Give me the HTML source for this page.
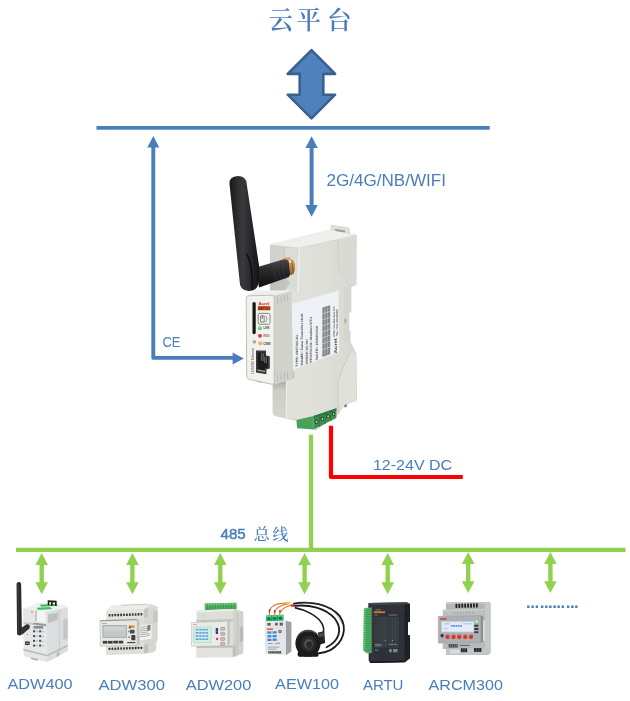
<!DOCTYPE html>
<html lang="zh">
<head>
<meta charset="utf-8">
<title>云平台</title>
<style>
html,body{margin:0;padding:0;background:#fff;}
body{width:630px;height:701px;overflow:hidden;position:relative;}
svg{position:absolute;left:0;top:0;display:block;}
.lbl{font-family:"Liberation Sans","Noto Sans CJK SC",sans-serif;fill:#4a7ebb;}
.cjk{font-family:"Liberation Serif","Noto Serif CJK SC",serif;fill:#4a7ebb;}
.tiny{font-family:"Liberation Sans","Noto Sans CJK SC",sans-serif;}
</style>
</head>
<body>
<svg width="630" height="701" viewBox="0 0 630 701">
<defs>
  <filter id="soft" x="-5%" y="-5%" width="110%" height="110%"><feGaussianBlur stdDeviation="0.35"/></filter>
  <filter id="photo" x="-5%" y="-5%" width="110%" height="110%"><feGaussianBlur stdDeviation="0.55"/></filter>
  <filter id="photo2" x="-5%" y="-5%" width="110%" height="110%"><feGaussianBlur stdDeviation="0.4"/></filter>
</defs>
<rect width="630" height="701" fill="#ffffff"/>
<!-- ===== LINES / ARROWS ===== -->
<g id="wires" filter="url(#soft)">
  <line x1="96.5" y1="127.8" x2="489.7" y2="127.8" stroke="#4a7ebb" stroke-width="3.8"/>
  <path d="M311.5 50.2 L335.1 73.9 L323.3 73.9 L323.3 94.7 L335.1 94.7 L311.5 118.4 L287.7 94.7 L299.7 94.7 L299.7 73.9 L287.7 73.9 Z" fill="#4f81bd" stroke="#3a5f8f" stroke-width="2.6" stroke-linejoin="round"/>
  <line x1="311.6" y1="146" x2="311.6" y2="207" stroke="#4a7ebb" stroke-width="4"/>
  <path d="M311.6 136.3 L317.8 148 L305.4 148 Z M311.6 216.7 L317.8 205 L305.4 205 Z" fill="#4a7ebb"/>
  <path d="M153.3 146 L153.3 357.9 L234 357.9" fill="none" stroke="#4a7ebb" stroke-width="3.9" stroke-linejoin="round"/>
  <path d="M153.3 136 L159.3 147.6 L147.3 147.6 Z" fill="#4a7ebb"/>
  <path d="M243.8 358.4 L232.6 352.4 L232.6 364.4 Z" fill="#4a7ebb"/>
  <path d="M331 425.7 L331 477 L462.8 477" fill="none" stroke="#ff0000" stroke-width="4.2" stroke-linejoin="round"/>
  <line x1="311" y1="434.7" x2="311" y2="550" stroke="#92d050" stroke-width="4.2"/>
  <line x1="16" y1="549.9" x2="625.6" y2="549.9" stroke="#92d050" stroke-width="4.1"/>
  <g id="garrows" fill="#92d050" stroke="#92d050">
    <g transform="translate(41.7 0)"><line x1="0" y1="563" x2="0" y2="584" stroke-width="4.4"/><path d="M0 553.1 L6.3 565 L-6.3 565 Z M0 594.2 L6.3 582.3 L-6.3 582.3 Z" stroke="none"/></g>
    <g transform="translate(132.4 0)"><line x1="0" y1="563" x2="0" y2="584" stroke-width="4.4"/><path d="M0 553.1 L6.3 565 L-6.3 565 Z M0 594.2 L6.3 582.3 L-6.3 582.3 Z" stroke="none"/></g>
    <g transform="translate(220.3 0)"><line x1="0" y1="563" x2="0" y2="584" stroke-width="4.4"/><path d="M0 553.1 L6.3 565 L-6.3 565 Z M0 594.2 L6.3 582.3 L-6.3 582.3 Z" stroke="none"/></g>
    <g transform="translate(304.6 0)"><line x1="0" y1="563" x2="0" y2="584" stroke-width="4.4"/><path d="M0 553.1 L6.3 565 L-6.3 565 Z M0 594.2 L6.3 582.3 L-6.3 582.3 Z" stroke="none"/></g>
    <g transform="translate(387.7 0)"><line x1="0" y1="563" x2="0" y2="584" stroke-width="4.4"/><path d="M0 553.1 L6.3 565 L-6.3 565 Z M0 594.2 L6.3 582.3 L-6.3 582.3 Z" stroke="none"/></g>
    <g transform="translate(468.2 -1.1)"><line x1="0" y1="563" x2="0" y2="584" stroke-width="4.4"/><path d="M0 553.1 L6.3 565 L-6.3 565 Z M0 594.2 L6.3 582.3 L-6.3 582.3 Z" stroke="none"/></g>
    <g transform="translate(550.4 -1.1)"><line x1="0" y1="563" x2="0" y2="584" stroke-width="4.4"/><path d="M0 553.1 L6.3 565 L-6.3 565 Z M0 594.2 L6.3 582.3 L-6.3 582.3 Z" stroke="none"/></g>
  </g>
</g>
<!-- ===== CENTRAL GATEWAY (AWT100) ===== -->
<defs>
  <linearGradient id="gwSide" x1="0" y1="0" x2="1" y2="0">
    <stop offset="0" stop-color="#e2e3dd"/><stop offset="0.6" stop-color="#dedfd9"/><stop offset="1" stop-color="#d7d8d2"/>
  </linearGradient>
  <linearGradient id="gwFront" x1="0" y1="0" x2="1" y2="0">
    <stop offset="0" stop-color="#cfd1ca"/><stop offset="1" stop-color="#d6d8d1"/>
  </linearGradient>
  <linearGradient id="gwAnt" x1="0" y1="0" x2="1" y2="0">
    <stop offset="0" stop-color="#1a1a1c"/><stop offset="0.45" stop-color="#3a3a3d"/><stop offset="1" stop-color="#141416"/>
  </linearGradient>
  <linearGradient id="gwElbow" x1="0" y1="0" x2="0" y2="1">
    <stop offset="0" stop-color="#4a4a4c"/><stop offset="0.4" stop-color="#2a2a2c"/><stop offset="1" stop-color="#0e0e10"/>
  </linearGradient>
  <linearGradient id="gwGold" x1="0" y1="0" x2="0" y2="1">
    <stop offset="0" stop-color="#e0b070"/><stop offset="0.5" stop-color="#b8823c"/><stop offset="1" stop-color="#8a5a28"/>
  </linearGradient>
  <linearGradient id="gwLow" x1="0" y1="0" x2="0" y2="1">
    <stop offset="0" stop-color="#a9a9a2"/><stop offset="0.25" stop-color="#cdcdc6"/><stop offset="1" stop-color="#d6d6cf"/>
  </linearGradient>
</defs>
<g id="gateway" filter="url(#photo)">
  <!-- full body silhouette / main side face -->
  <path d="M270.4 245 L331 230 L331 225.2 L349 228.2 L349.6 234 L356.2 235.4 L356 284.6 L350.8 286.5 L350.8 311.5 L348.8 312.5 L348.8 330 L350 331 L350 342 L356 354 L356.6 400 L344 405 L338 414 L316 430 L297 420.5 L275 415.5 Q273 415 273 412 L273 386 L270.4 290 Z" fill="url(#gwSide)" stroke="#cfcfc8" stroke-width="0.9" stroke-linejoin="round"/>
  <!-- top face -->
  <path d="M270.4 244.6 L331 229.6 L356.2 235.2 L299.3 248.2 Z" fill="#efefeb"/>
  <path d="M270.4 245 L299.3 248.2 L356.2 235.4" stroke="#d2d2cb" stroke-width="0.7" fill="none"/>
  <!-- tab -->
  <path d="M331 230.5 L331 225.2 L349 228.2 L349.6 234.4 L345 233.4 L345 230.3 L335 228.6 L335 231.2 Z" fill="#deded8"/>
  <path d="M335.2 229 L345 230.6 L345 232.6 L335.2 231 Z" fill="#9c9c96"/>
  <!-- upper block front face -->
  <path d="M270.4 245 L299.3 248.2 L298 292 L270.4 292 Z" fill="url(#gwFront)"/>
  <path d="M284.4 247.4 L299.3 248.2 L298 292 L284.4 292 Z" fill="#dadcd6"/>
  <path d="M284.4 247.6 L284.4 258" stroke="#c4c4bd" stroke-width="0.8" fill="none"/>
  <path d="M270.4 279 L284 275 L290 283 L284 292 L270.4 292 Z" fill="#aeaea6" opacity="0.45"/>
  <!-- corner highlight -->
  <path d="M299.3 248.2 L298 292" stroke="#f2f2ee" stroke-width="1.2" fill="none"/>
  <!-- rear (rail) face -->
  <path d="M337.9 239.6 L356.2 235.4 L356 284.6 L350.6 286.5 L337.9 268.8 Z" fill="#dadad4"/>
  <path d="M337.9 239.6 L337.9 268.8 L350.6 286.5" stroke="#cdcdc6" stroke-width="0.8" fill="none"/>
  <path d="M350.8 286.5 L350.8 311.5 L348.8 312.5 L348.8 330 L350 331 L350 342 L344 342 L344 287 Z" fill="#d6d6d0"/>
  <!-- lower rear clip face -->
  <path d="M351 351 Q343 366 338 381 L338 414 L344 405 L356.6 400 L356 354 Z" fill="#e1e1dc"/>
  <path d="M351.5 350 Q343 366 338 381 L338 413" stroke="#c9c9c2" stroke-width="0.9" fill="none"/>
  <path d="M344 405 L347 404 L347 407 L344.4 407.6 Z" fill="#8e8e88"/>
  <!-- label sticker -->
  <path d="M291.6 304 L338.6 290.5 L339.2 352 L293.4 369.8 Z" fill="#eef1f5"/>
  <!-- lower block front face -->
  <path d="M273 384 L286.4 381 L286.4 418.2 L275 415.5 Q273 415 273 412 Z" fill="url(#gwLow)"/>
  <path d="M286.4 381 L294 378.5 L294 371 L286.4 374 Z" fill="#bdbdb6"/>
  <path d="M286.4 381 L286.4 418" stroke="#efefeb" stroke-width="1" fill="none"/>
  <!-- front block side face -->
  <path d="M273.9 295.4 L291.4 290.6 L293 378.6 L273.9 384.8 Z" fill="#d2d2cc"/>
  <path d="M277.6 297 L277.6 304 M281 296.2 L281 303 M284.4 295.4 L284.4 302 M287.6 294.6 L287.6 301" stroke="#babab3" stroke-width="1" fill="none"/>
  <path d="M277.6 374.5 L277.6 381.5 M281 373.6 L281 380.6 M284.4 372.6 L284.4 379.6 M287.6 371.8 L287.6 378.8" stroke="#babab3" stroke-width="1" fill="none"/>
  <!-- front block top face -->
  <path d="M246.6 296 L256 290.4 L293.4 290.2 L273.9 295.6 Z" fill="#efefec"/>
  <!-- front block front face -->
  <path d="M248.2 295.8 L272 295.2 Q274.2 295.2 274.2 297.4 L274.2 382.4 Q274.2 384.9 271.8 384.3 L249 379.2 Q246.8 378.7 246.7 376.4 L246.2 298 Q246.2 295.9 248.2 295.8 Z" fill="#f1f1ee" stroke="#bfbfb8" stroke-width="1"/>
</g>
<g id="gateway-details" filter="url(#photo2)">
  <!-- terminal block -->
  <path d="M296.4 420 L313.6 416 L313.6 429.6 L297.1 428.3 Z" fill="#4aa25a"/>
  <path d="M313.6 416 L336.4 408.3 L336.4 418.1 L313.6 429.6 Z" fill="#3f9150"/>
  <path d="M313.6 416 L336.4 408.3 L336.4 410.6 L313.6 418.6 Z" fill="#2f7a42"/>
  <path d="M319.3 414.2 L319.3 426.6 M325.1 412.2 L325.1 423.8 M330.7 410.3 L330.7 421" stroke="#2c6f3c" stroke-width="0.9" fill="none"/>
  <g fill="#1f4a2a">
    <ellipse cx="316.3" cy="421.6" rx="1.9" ry="2.3"/><ellipse cx="322.2" cy="418.7" rx="1.9" ry="2.3"/>
    <ellipse cx="327.9" cy="416.2" rx="1.8" ry="2.2"/><ellipse cx="333.4" cy="414" rx="1.7" ry="2.1"/>
  </g>
  <g fill="#b9cfbd">
    <ellipse cx="316.5" cy="421.8" rx="0.9" ry="1.2"/><ellipse cx="322.4" cy="418.9" rx="0.9" ry="1.2"/>
    <ellipse cx="328.1" cy="416.4" rx="0.9" ry="1.1"/><ellipse cx="333.6" cy="414.2" rx="0.8" ry="1.1"/>
  </g>
  <!-- label text (vertical) -->
  <g class="tiny" fill="#555" font-size="3.4" font-weight="bold">
    <text transform="matrix(0,-1,0.95,-0.27,297.6,366.4)" textLength="32" lengthAdjust="spacingAndGlyphs">TYPE: AWT100-2G</text>
    <text transform="matrix(0,-1,0.95,-0.27,302.9,365.2)" textLength="52" lengthAdjust="spacingAndGlyphs" fill="#4e4e4e">NAME: Data Transfer Unit</text>
    <text transform="matrix(0,-1,0.95,-0.27,307.6,363.8)" textLength="25" lengthAdjust="spacingAndGlyphs" fill="#4e4e4e">POWER: DC 24V</text>
    <text transform="matrix(0,-1,0.95,-0.27,312.4,362.2)" textLength="45.5" lengthAdjust="spacingAndGlyphs">PROTOCOL: Modbus-RTU</text>
    <text transform="matrix(0,-1,0.95,-0.27,317.8,359.6)" textLength="34" lengthAdjust="spacingAndGlyphs">DATE: 20200106</text>
    <text transform="matrix(0,-1,0.95,-0.27,337,353)" textLength="15" lengthAdjust="spacingAndGlyphs" font-weight="bold" font-size="4.4" fill="#444">Acrel</text>
    <text transform="matrix(0,-1,0.95,-0.27,335.4,336.5)" textLength="30" lengthAdjust="spacingAndGlyphs" font-size="2.8">ADD: No.253 Yulv Rd</text>
    <text transform="matrix(0,-1,0.95,-0.27,338.4,335.8)" textLength="27" lengthAdjust="spacingAndGlyphs" font-size="2.8">TEL: 021-69158300</text>
  </g>
  <!-- barcode block -->
  <path d="M322.4 357 L322.4 307.6 L330.2 305.3 L330.2 354 Z" fill="#868686"/>
  <path d="M322.2 350 L330.2 346.8 M322.2 344 L330.2 340.8 M322.2 338 L330.2 334.9 M322.2 332 L330.2 329 M322.2 326 L330.2 323.1 M322.2 320 L330.2 317.2 M322.2 314 L330.2 311.3" stroke="#dcdfe3" stroke-width="0.6" fill="none"/>
  <path d="M324.9 355 L324.9 308 M327.6 354 L327.6 307.2" stroke="#d4d7db" stroke-width="0.5" fill="none"/>
  <!-- side mark on rear strip -->
  <rect x="344.6" y="318.6" width="1.6" height="4.6" fill="#a4a49e"/>

  <!-- front panel -->
  <rect x="252.5" y="302" width="3.2" height="32.2" rx="1.6" fill="#151515"/>
  <text class="tiny" x="258.4" y="305.2" font-size="4" font-weight="bold" fill="#d8272d" textLength="11.2" lengthAdjust="spacingAndGlyphs">Acrel</text>
  <rect x="257.8" y="305.9" width="12.6" height="4.4" fill="#cf5a2c"/>
  <text class="tiny" x="258.3" y="309.6" font-size="3.6" font-weight="bold" fill="#5a2410" textLength="11.6" lengthAdjust="spacingAndGlyphs">AWT100</text>
  <rect x="258.2" y="313.4" width="11.8" height="10.8" rx="1.6" fill="#f4f4f1" stroke="#77776f" stroke-width="0.9"/>
  <path d="M260.6 316 L260.6 322 L264.2 322 L264.2 316 Z M262.4 315.2 L262.4 319" stroke="#66665f" stroke-width="0.8" fill="none"/>
  <path d="M265.6 315.6 Q268.6 318.8 265.6 322.4" stroke="#77776f" stroke-width="0.8" fill="none"/>
  <circle cx="259.9" cy="328.2" r="2" fill="#52cf57"/><circle cx="259.6" cy="327.8" r="0.9" fill="#a9f0a8"/>
  <circle cx="260" cy="335.8" r="1.9" fill="#e2323a"/>
  <circle cx="254.4" cy="341.8" r="1.5" fill="#a9a9a6" stroke="#8b8b88" stroke-width="0.4"/>
  <circle cx="260.3" cy="343.3" r="2" fill="#f8a678"/>
  <g class="tiny" font-size="3.1" font-weight="bold" fill="#55554f">
    <text x="263.4" y="329.4" textLength="6.4" lengthAdjust="spacingAndGlyphs">LINK</text>
    <text x="263.4" y="337" textLength="6" lengthAdjust="spacingAndGlyphs" fill="#8a5a58">RSSI</text>
    <text x="263.2" y="344.8" textLength="7.2" lengthAdjust="spacingAndGlyphs" fill="#33332f">COMM</text>
    <text transform="translate(253.9 374) rotate(-90)" font-size="3.2" font-weight="normal" fill="#4a4a46" textLength="26" lengthAdjust="spacingAndGlyphs">10/100M Ethernet</text>
  </g>
  <!-- RJ45 -->
  <path d="M256 350.6 L266 350.6 L266 355.4 L269.8 356.2 L269.8 368.6 L266.4 369.4 L266.4 374.2 L256 372.6 Z" fill="#3b3b3b"/>
  <path d="M257.6 352.4 L264.6 352.4 L264.6 357 L268 357.6 L268 367.4 L264.8 368 L264.8 370.6 L257.6 369.6 Z" fill="#1e1e1e"/>
  <path d="M261.6 353 L261.6 361 M263.2 353 L263.2 361 M264.7 357 L264.7 363 M266.3 357.6 L266.3 363.4" stroke="#8c8c86" stroke-width="0.7" fill="none"/>
  <path d="M257.4 370 L265 371.4" stroke="#bdbdb6" stroke-width="1" fill="none"/>
  <path d="M256.5 381.4 L262.5 382.6" stroke="#b5b5ae" stroke-width="0.8" fill="none"/>
</g>
<g id="gateway-antenna" filter="url(#photo2)">
  <!-- SMA gold -->
  <ellipse cx="286.6" cy="259.4" rx="4.2" ry="2" transform="rotate(-14 286.6 259.4)" fill="#d8a868"/>
  <path d="M286.6 259.6 L292.4 259.6 L295 263.8 L294.8 270.4 L292.2 274.8 L287.4 275.6 Z" fill="url(#gwGold)"/>
  <path d="M291.8 260 L293.6 274" stroke="#7a4c20" stroke-width="0.8" fill="none"/>
  <ellipse cx="290" cy="261.6" rx="1.6" ry="1" fill="#f5e6cc"/>
  <!-- elbow -->
  <path d="M256 267.4 L284 259.2 Q288.2 259 288.8 262 L290 274.4 Q289.8 277 287 277.8 L259 287.4 Z" fill="url(#gwElbow)"/>
  <path d="M272 263 L276.4 281.4 M276.6 261.6 L281 280 M280.6 260.4 L285 278.6" stroke="#3c3c3e" stroke-width="0.6" fill="none"/>
  <!-- rod -->
  <path d="M229.5 184 Q229 176.4 237.8 176 Q246.2 176 246.7 184 L259.4 268 L258.6 283 Q257 291.4 248.4 291 Q241.2 290.4 240 284.6 Z" fill="url(#gwAnt)"/>
  <path d="M246.6 254 Q252 262 252.6 290" stroke="#050506" stroke-width="1.4" fill="none" opacity="0.8"/>
</g>
<!-- ===== ADW400 ===== -->
<g id="adw400" filter="url(#photo2)"><g transform="translate(5 575) scale(0.13559)">
  <path d="M135 250 L250 205 L430 222 L462 240 L462 560 L312 642 L140 597 Z" fill="#dfe1e1"/>
  <path d="M305 272 L462 240 L462 560 L312 642 Z" fill="#dbdede"/>
  <path d="M135 250 L250 205 L430 222 L462 240 L305 272 Z" fill="#eef0f0"/>
  <path d="M135 250 L305 272 L312 642 L140 597 Z" fill="#e5e7e7"/>
  <path d="M318 292 L392 276 L386 332 L318 354 Z" fill="#bcc0c0"/>
  <path d="M400 255 L400 590" stroke="#c0c4c4" stroke-width="6" fill="none"/>
  <path d="M430 330 L462 322 L462 470 L430 480 Z" fill="#c2c6c6"/>
  <path d="M232 242 L332 236 L348 250 L246 259 Z" fill="#3fbf60"/>
  <path d="M255 219 L375 214 L390 227 L268 235 Z" fill="#39b85a"/>
  <path d="M315 186 L381 190 L381 228 L369 228 L369 203 L352 202 L352 226 L340 226 L340 201 L327 200 L327 224 L315 224 Z" fill="#1e1e1e"/>
  <path d="M222 262 L236 262 L236 342 L222 339 Z" fill="#c2c6c6"/>
  <path d="M236 262 L300 272 L300 352 L236 342 Z" fill="#f3f4f4"/>
  <circle cx="200" cy="272" r="9" fill="#b4b8b8"/>
  <path d="M135 347 L310 366 L310 380 L135 360 Z" fill="#c3c6c6"/>
  <path d="M210 352 L300 362 L300 374 L210 364 Z" fill="#8f9393"/>
  <rect x="210" y="376" width="72" height="20" fill="#8a8e8e"/>
  <g fill="#45484a">
    <rect x="207" y="408" width="15" height="15"/><rect x="252" y="408" width="15" height="15"/>
    <rect x="207" y="443" width="15" height="15"/><rect x="252" y="443" width="15" height="15"/>
    <rect x="207" y="478" width="15" height="15"/><rect x="252" y="478" width="15" height="15"/>
    <rect x="207" y="513" width="15" height="15"/><rect x="252" y="513" width="15" height="15"/>
  </g>
  <g fill="#a9adad"><rect x="228" y="412" width="16" height="6"/><rect x="228" y="447" width="16" height="6"/><rect x="228" y="482" width="16" height="6"/><rect x="228" y="517" width="16" height="6"/>
  <rect x="272" y="416" width="18" height="5"/><rect x="272" y="451" width="18" height="5"/><rect x="272" y="486" width="18" height="5"/><rect x="272" y="521" width="18" height="5"/></g>
  <rect x="148" y="490" width="34" height="26" rx="3" fill="#2f3131"/><rect x="154" y="500" width="22" height="8" fill="#9a9e9e"/>
  <circle cx="165" cy="438" r="5" fill="#9a9e9e"/>
  <path d="M135 543 L310 588 L310 600 L135 556 Z" fill="#b9bcbc"/>
  <path d="M312 588 L462 515 L462 527 L312 600 Z" fill="#b4b8b8"/>
  <path d="M190 606 L242 620 L242 634 L190 620 Z" fill="#b0b4b4"/>
  <path d="M380 575 L400 566 L400 596 L380 606 Z" fill="#b9bcbc"/>
  <!-- antenna -->
  <path d="M118 392 L158 364 Q180 358 184 380 Q184 398 166 406 L124 442 Z" fill="#303030"/>
  <path d="M85 72 Q85 52 102 52 Q119 52 119 72 L125 430 Q125 446 107 446 Q89 446 89 430 Z" fill="#2b2b2b"/>
  <path d="M96 70 L99 425" stroke="#4a4a4a" stroke-width="5" fill="none"/>
</g></g>
<!-- ===== ADW300 ===== -->
<g id="adw300" filter="url(#photo2)"><g transform="translate(90 595) scale(0.13495)">
  <path d="M160 80 L445 64 L500 86 L500 335 L490 348 L490 405 L468 425 L400 436 L120 442 L120 118 Z" fill="#dcdcd8"/>
  <path d="M400 104 L500 88 L500 335 L490 348 L490 405 L468 425 L400 436 Z" fill="#d6d6d2"/>
  <path d="M470 120 L500 116 L500 200 L470 204 Z" fill="#c6c6c2"/>
  <path d="M120 118 L165 80 L445 66 L400 106 Z" fill="#ecece8"/>
  <path d="M230 72 L420 64 L420 72 L230 80 Z" fill="#c9c9c5"/>
  <path d="M120 118 L400 106 L400 172 L120 182 Z" fill="#e3e3df"/>
  <path d="M400 106 L430 96 L430 160 L400 172 Z" fill="#c4c4c0"/>
  <g fill="#353533">
    <rect x="138" y="141" width="13" height="19" rx="4"/><rect x="159.5" y="140" width="13" height="19" rx="4"/><rect x="181" y="139" width="13" height="19" rx="4"/><rect x="202.5" y="139" width="13" height="19" rx="4"/><rect x="224" y="138" width="13" height="19" rx="4"/><rect x="245.500" y="137" width="13" height="19" rx="4"/><rect x="267" y="137" width="13" height="19" rx="4"/><rect x="288.5" y="136" width="13" height="19" rx="4"/><rect x="310" y="135" width="13" height="19" rx="4"/><rect x="331.5" y="135" width="13" height="19" rx="4"/><rect x="353" y="134" width="13" height="19" rx="4"/><rect x="374.5" y="133" width="13" height="19" rx="4"/>
  </g>
  <path d="M120 380 L400 370 L400 434 L120 442 Z" fill="#dededa"/>
  <path d="M400 370 L432 362 L432 424 L400 434 Z" fill="#c2c2be"/>
  <g fill="#353533">
    <rect x="138" y="390" width="13" height="18" rx="4"/><rect x="159.5" y="389" width="13" height="18" rx="4"/><rect x="181" y="389" width="13" height="18" rx="4"/><rect x="202.5" y="388" width="13" height="18" rx="4"/><rect x="224" y="387" width="13" height="18" rx="4"/><rect x="245.500" y="387" width="13" height="18" rx="4"/><rect x="267" y="386" width="13" height="18" rx="4"/><rect x="288.5" y="385" width="13" height="18" rx="4"/><rect x="310" y="385" width="13" height="18" rx="4"/><rect x="331.5" y="384" width="13" height="18" rx="4"/><rect x="353" y="383" width="13" height="18" rx="4"/><rect x="374.5" y="383" width="13" height="18" rx="4"/>
  </g>
  <path d="M362 228 L456 214 L456 322 L362 336 Z" fill="#f5f5f3"/>
  <path d="M372 240 L420 233 M372 254 L445 243 M372 268 L445 257 M372 282 L430 273 M372 296 L445 285 M372 310 L445 299" stroke="#8c8c88" stroke-width="5" fill="none"/>
  <path d="M425 224 L448 220 L448 262 L425 266 Z" fill="#7a7a76"/>
  <path d="M350 182 L368 190 L368 365 L350 373 Z" fill="#c2c2be"/>
  <path d="M75 190 L350 182 L350 373 L75 381 Z" fill="#e7e7e4" stroke="#b2b2ad" stroke-width="4"/>
  <path d="M76 191 L350 183" stroke="#85857f" stroke-width="6" fill="none"/>
  <rect x="93" y="223" width="180" height="94" fill="#9ea4a2"/>
  <rect x="99" y="229" width="168" height="82" fill="#c1c8c6"/>
  <rect x="104" y="234" width="158" height="30" fill="#ccd3d1"/>
  <text class="tiny" x="86" y="215" font-size="15" font-weight="bold" fill="#d9342c">Acrel</text>
  <rect x="288" y="224" width="42" height="20" fill="#e09a3a"/><rect x="288" y="234" width="14" height="14" fill="#5a4a30"/>
  <rect x="296" y="258" width="34" height="28" rx="4" fill="#4c4c4a"/><rect x="282" y="266" width="10" height="10" fill="#777773"/>
  <rect x="306" y="296" width="30" height="40" rx="4" fill="#3f3f3d"/><rect x="284" y="308" width="12" height="10" fill="#777773"/>
  <g fill="#3a3a38"><rect x="95" y="340" width="34" height="20"/><rect x="134" y="340" width="34" height="20"/><rect x="173" y="339" width="34" height="20"/><rect x="212" y="339" width="34" height="20"/></g>
  <rect x="276" y="348" width="60" height="9" fill="#4a4a48"/>
</g></g>
<!-- ===== ADW200 ===== -->
<g id="adw200" filter="url(#photo2)"><g transform="translate(180 590) scale(0.12698)">
  <path d="M195 106 L445 100 L447 152 L195 160 Z" fill="#4fae5e"/>
  <path d="M195 106 L445 100 L445 116 L195 122 Z" fill="#74cc80"/>
  <path d="M216 108 L216 158 M237 107 L237 157 M258 107 L258 157 M279 106 L279 156 M300 106 L300 156 M321 105 L321 155 M342 105 L342 155 M363 104 L363 154 M384 104 L384 154 M405 103 L405 153 M426 103 L426 153" stroke="#2f8a42" stroke-width="5" fill="none"/>
  <path d="M130 162 L420 150 L498 172 L498 498 L420 530 L130 532 Z" fill="#deded9"/>
  <path d="M420 150 L498 172 L498 498 L420 530 Z" fill="#d2d2cd"/>
  <path d="M470 296 L498 290 L498 402 L470 412 Z" fill="#babab5"/>
  <path d="M452 182 L452 505" stroke="#bdbdb8" stroke-width="5" fill="none"/>
  <path d="M130 162 L420 150 L420 166 L130 178 Z" fill="#ecece8"/>
  <path d="M130 236 L420 228 L420 250 L130 258 Z" fill="#c6c6c1"/>
  <circle cx="182" cy="205" r="6" fill="#b0b0ab"/><rect x="300" y="246" width="30" height="10" fill="#8d8d88"/>
  <path d="M375 246 L393 255 L393 430 L375 439 Z" fill="#c4c4bf"/>
  <path d="M90 256 L375 246 L375 439 L90 443 Z" fill="#eaeae7" stroke="#b6b6b1" stroke-width="4"/>
  <text class="tiny" x="100" y="278" font-size="14" font-weight="bold" fill="#d9544c">Acrel</text>
  <rect x="106" y="288" width="142" height="129" fill="#b4d8c6"/>
  <rect x="112" y="294" width="130" height="117" fill="#cdf4e0"/>
  <g fill="#6a9ee2"><rect x="124" y="306" width="98" height="13"/><rect x="124" y="331" width="98" height="13"/><rect x="124" y="356" width="98" height="13"/><rect x="124" y="381" width="98" height="13"/></g>
  <path d="M148 300 L148 400 M173 300 L173 400 M198 300 L198 400" stroke="#cdf4e0" stroke-width="5" fill="none"/>
  <rect x="281" y="299" width="19" height="48" rx="6" fill="#26376a"/><rect x="284" y="318" width="13" height="14" fill="#4668b0"/>
  <circle cx="292" cy="386" r="9" fill="#d72f4a"/>
  <g fill="#cfbcbc" stroke="#86706f" stroke-width="3.5"><rect x="320" y="294" width="32" height="23" rx="4"/><rect x="320" y="334" width="32" height="23" rx="4"/><rect x="320" y="374" width="32" height="23" rx="4"/><rect x="320" y="413" width="32" height="23" rx="4"/></g>
  <path d="M130 443 L415 439 L415 526 L130 531 Z" fill="#e2e2de"/>
  <path d="M130 443 L415 439 L415 452 L130 456 Z" fill="#bcbcb7"/>
  <path d="M415 439 L440 430 L440 512 L415 526 Z" fill="#c0c0bb"/>
</g></g>
<!-- ===== AEW100 ===== -->
<g id="aew100" filter="url(#photo2)"><g transform="translate(262 595) scale(0.142857)">
  <g fill="none" stroke="#1b1b1b" stroke-width="13" stroke-linecap="round">
    <path d="M224 60 C330 42 470 60 546 150 C600 232 572 332 478 386 C450 400 425 406 400 408"/>
    <path d="M228 76 C330 66 445 90 512 168 C566 242 540 322 452 366"/>
    <path d="M234 90 C300 102 388 144 420 200 C436 232 434 254 424 270" stroke-width="11"/>
  </g>
  <path d="M300 52 C420 50 520 100 560 200" stroke="#4a4a4a" stroke-width="3" fill="none"/>
  <g fill="none" stroke="#e2742c" stroke-width="8" stroke-linecap="round">
    <path d="M52 142 C48 100 62 76 112 62 L172 56"/>
    <path d="M88 142 C86 112 100 88 142 72 L182 62"/>
    <path d="M122 140 C126 116 142 96 172 82 L198 72"/>
  </g>
  <path d="M50 120 L54 100 M86 124 L90 104 M122 122 L128 104" stroke="#c03020" stroke-width="9" fill="none"/>
  <path d="M164 50 L196 47 L198 62 L166 65 Z" fill="#f0d21e"/>
  <path d="M200 66 L228 64 L230 80 L202 82 Z" fill="#e0212f"/>
  <path d="M28 144 L150 138 L152 182 L28 186 Z" fill="#32ae6c"/>
  <path d="M28 144 L150 138 L150 150 L28 156 Z" fill="#54cc8a"/>
  <path d="M68 142 L68 184 M108 140 L108 182" stroke="#1f7a48" stroke-width="4" fill="none"/>
  <g fill="#185f38"><circle cx="48" cy="166" r="9"/><circle cx="88" cy="164" r="9"/><circle cx="128" cy="162" r="9"/></g>
  <path d="M165 178 L206 190 L206 396 L168 421 Z" fill="#9da0a2"/>
  <path d="M20 184 L165 178 L168 421 L22 411 Z" fill="#e3e6e9"/>
  <g fill="#5a5d60"><rect x="38" y="196" width="22" height="18"/><rect x="92" y="195" width="18" height="18"/><rect x="124" y="194" width="22" height="20"/></g>
  <rect x="35" y="234" width="42" height="11" fill="#e85f28"/>
  <g fill="#3f86d8"><rect x="38" y="255" width="28" height="16"/><rect x="74" y="254" width="28" height="16"/><rect x="38" y="281" width="28" height="16"/><rect x="74" y="280" width="28" height="16"/><rect x="38" y="306" width="28" height="16"/><rect x="74" y="305" width="28" height="16"/></g>
  <circle cx="126" cy="256" r="12" fill="#7f6236"/><circle cx="126" cy="256" r="5.5" fill="#cfae6a"/>
  <g fill="#8a8e92"><rect x="42" y="336" width="32" height="6"/><rect x="92" y="335" width="34" height="6"/><rect x="42" y="362" width="80" height="5"/><rect x="42" y="376" width="60" height="5"/></g>
  <rect x="44" y="394" width="90" height="15" fill="#3c3e40"/>
  <path d="M54 394 L54 409 M66 394 L66 409 M80 394 L80 409 M92 394 L92 409 M106 394 L106 409 M120 394 L120 409" stroke="#d8dadc" stroke-width="3" fill="none"/>
  <!-- CT clamp -->
  <path d="M392 262 L436 254 L442 336 L402 348 Z" fill="#242424"/>
  <path d="M400 268 L430 262 L432 290 L402 296 Z" fill="#4a4a4a"/>
  <rect x="250" y="396" width="146" height="36" rx="12" fill="#161616"/>
  <ellipse cx="322" cy="338" rx="88" ry="95" fill="#1d1d1d"/>
  <path d="M246 300 C262 250 330 232 388 272" stroke="#555" stroke-width="8" fill="none"/>
  <ellipse cx="325" cy="342" rx="52" ry="56" fill="#2c2c2c"/>
  <ellipse cx="326" cy="343" rx="31" ry="33" fill="#555657"/>
  <ellipse cx="330" cy="347" rx="22" ry="24" fill="#2a2a2a"/>
</g></g>
<!-- ===== ARTU ===== -->
<g id="artu" filter="url(#photo2)"><g transform="translate(350 595) scale(0.11111)">
  <path d="M126 118 L196 112 L196 522 L150 524 L121 500 Z" fill="#4cae62"/>
  <path d="M126 118 L142 116 L138 512 L121 500 Z" fill="#6ccc82"/>
  <path d="M124 138 L196 134 M124 158 L196 154 M124 178 L196 174 M123 198 L196 194 M123 218 L196 214 M123 238 L196 234 M123 258 L196 254 M123 278 L196 274 M122 298 L196 294 M122 318 L196 314 M122 338 L196 334 M122 358 L196 354 M122 378 L196 374 M122 398 L196 394 M121 418 L196 414 M121 438 L196 434 M121 458 L196 454 M121 478 L196 474 M121 498 L196 494" stroke="#2f8a48" stroke-width="6" fill="none"/>
  <path d="M165 72 L510 65 L540 80 L540 240 L522 245 L522 360 L540 365 L540 570 L498 606 L180 612 L168 590 L168 522 L194 522 L194 112 L165 116 Z" fill="#2d3237"/>
  <path d="M165 72 L510 65 L540 80 L194 90 Z" fill="#41474d"/>
  <path d="M492 82 L540 80 L540 240 L522 245 L522 360 L540 365 L540 570 L492 594 Z" fill="#1d2125"/>
  <path d="M190 598 L492 592 L498 606 L180 612 Z" fill="#14171a"/>
  <rect x="220" y="198" width="222" height="276" fill="#363c42"/>
  <rect x="214" y="147" width="102" height="16" fill="#e9702e"/>
  <rect x="228" y="130" width="52" height="8" fill="#7d848a"/>
  <g fill="#7d848a"><rect x="222" y="176" width="26" height="8"/><rect x="350" y="176" width="76" height="8"/><rect x="224" y="440" width="58" height="8"/><rect x="224" y="454" width="58" height="8"/><rect x="350" y="440" width="76" height="8"/><rect x="224" y="492" width="30" height="8"/><rect x="352" y="486" width="24" height="30"/><rect x="388" y="486" width="40" height="30"/></g>
  <path d="M290 208 L290 470 M320 208 L320 470 M380 208 L380 470 M410 208 L410 470" stroke="#666d73" stroke-width="3.5" stroke-dasharray="8 5" fill="none"/>
  <path d="M205 100 L205 585" stroke="#454b51" stroke-width="4" fill="none"/>
  <circle cx="318" cy="408" r="5" fill="#aab0b6"/><circle cx="382" cy="408" r="5" fill="#aab0b6"/>
  <rect x="494" y="178" width="10" height="14" fill="#0c0e10"/><rect x="494" y="452" width="10" height="14" fill="#0c0e10"/>
</g></g>
<!-- ===== ARCM300 ===== -->
<g id="arcm300" filter="url(#photo2)"><g transform="translate(425 595) scale(0.12698)">
  <path d="M165 60 L500 55 L516 62 L516 450 L500 470 L165 472 Z" fill="#b3b6b6"/>
  <path d="M470 58 L516 62 L516 450 L500 470 L470 470 Z" fill="#c7c9c9"/>
  <path d="M455 200 L470 198 L470 360 L455 362 Z" fill="#e8eaea"/>
  <path d="M165 60 L500 55 L500 66 L165 72 Z" fill="#c6c9c9"/>
  <g fill="#25272a"><rect x="240" y="68" width="15" height="34" rx="3"/><rect x="263" y="68" width="15" height="34" rx="3"/><rect x="286" y="67" width="15" height="34" rx="3"/><rect x="309" y="67" width="15" height="34" rx="3"/><rect x="332" y="66" width="15" height="34" rx="3"/><rect x="355" y="66" width="15" height="34" rx="3"/><rect x="378" y="65" width="15" height="34" rx="3"/><rect x="401" y="65" width="15" height="34" rx="3"/></g>
  <path d="M140 116 L470 110 L470 166 L140 170 Z" fill="#bdc0c0"/>
  <path d="M140 116 L470 110 L470 120 L140 126 Z" fill="#cdd0d0"/>
  <g fill="#6c7072"><circle cx="232" cy="142" r="4"/><circle cx="256" cy="142" r="4"/><circle cx="280" cy="141" r="4"/><circle cx="304" cy="141" r="4"/><circle cx="328" cy="140" r="4"/><circle cx="352" cy="140" r="4"/><circle cx="376" cy="139" r="4"/></g>
  <path d="M140 380 L470 374 L470 422 L140 426 Z" fill="#b8bbbb"/>
  <path d="M165 426 L500 420 L500 470 L165 472 Z" fill="#c3c6c6"/>
  <rect x="186" y="386" width="72" height="28" fill="#484b4c"/><path d="M200 386 L200 414 M216 386 L216 414 M232 386 L232 414 M246 386 L246 414" stroke="#9a9e9e" stroke-width="4" fill="none"/>
  <rect x="272" y="392" width="82" height="10" fill="#6a6e70"/>
  <rect x="196" y="430" width="80" height="30" fill="#dadcdc"/>
  <rect x="282" y="420" width="50" height="30" fill="#25272a"/><rect x="386" y="418" width="58" height="30" fill="#25272a"/>
  <path d="M298 420 L298 450 M314 420 L314 450 M404 418 L404 448 M424 418 L424 448" stroke="#8d9193" stroke-width="4" fill="none"/>
  <path d="M440 162 L458 170 L458 368 L440 376 Z" fill="#8c9092"/>
  <path d="M105 168 L440 162 L440 376 L105 379 Z" fill="#adb1b3" stroke="#8e9294" stroke-width="3"/>
  <rect x="118" y="183" width="52" height="11" fill="#cf3c3c"/>
  <rect x="128" y="206" width="260" height="88" fill="#c2cde0"/>
  <rect x="134" y="212" width="248" height="76" fill="#e3ebf8"/>
  <g fill="#5a86e0"><rect x="205" y="236" width="13" height="14"/><rect x="223" y="236" width="13" height="14"/><rect x="241" y="236" width="13" height="14"/><rect x="259" y="236" width="13" height="14"/><rect x="277" y="236" width="13" height="14"/></g>
  <g fill="#9cb2e4"><rect x="150" y="224" width="46" height="7"/><rect x="300" y="224" width="70" height="6"/><rect x="150" y="262" width="30" height="6"/></g>
  <rect x="396" y="198" width="20" height="22" rx="5" fill="#7dffa6"/><rect x="401" y="203" width="10" height="12" rx="3" fill="#d6ffe2"/>
  <g fill="#363a3c"><rect x="388" y="234" width="32" height="16"/><rect x="388" y="260" width="32" height="16"/><rect x="388" y="286" width="32" height="14"/></g>
  <g fill="#e0483a"><circle cx="178" cy="330" r="18.5"/><circle cx="225" cy="330" r="18.5"/><circle cx="270" cy="330" r="18.5"/><circle cx="317" cy="330" r="18.5"/><circle cx="362" cy="330" r="18.5"/></g>
  <g fill="#a82a20"><circle cx="178" cy="330" r="7"/><circle cx="225" cy="330" r="7"/><circle cx="270" cy="330" r="7"/><circle cx="317" cy="330" r="7"/><circle cx="362" cy="330" r="7"/></g>
  <circle cx="135" cy="320" r="15" fill="#77797b"/><circle cx="135" cy="320" r="10" fill="#2c2e30"/>
</g></g>
<!-- ===== TEXT ===== -->
<g id="labels">
  <text class="cjk" font-size="24.5" font-weight="600" y="29.3" x="268.6 296.4 326.9">云平台</text>
  <text class="lbl" font-size="16.2" x="326.4" y="185.7" textLength="119.6" lengthAdjust="spacingAndGlyphs">2G/4G/NB/WIFI</text>
  <text class="lbl" font-size="15.2" x="162.5" y="346.9" textLength="18" lengthAdjust="spacingAndGlyphs">CE</text>
  <text class="lbl" font-size="15.5" x="372.9" y="469.9" textLength="79.3" lengthAdjust="spacingAndGlyphs">12-24V DC</text>
  <text class="lbl" font-size="14.5" x="220.5" y="539.4" textLength="25.2" lengthAdjust="spacingAndGlyphs" stroke="#4a7ebb" stroke-width="0.45">485</text>
  <text class="cjk" font-size="16" font-weight="500" y="540.3" x="253.8 272.4">总线</text>
  <text class="lbl" font-size="15.3" x="7.4" y="688.5" textLength="65.2" lengthAdjust="spacingAndGlyphs">ADW400</text>
  <text class="lbl" font-size="15.3" x="98.4" y="689.7" textLength="66.6" lengthAdjust="spacingAndGlyphs">ADW300</text>
  <text class="lbl" font-size="15.3" x="185.7" y="689.6" textLength="65.7" lengthAdjust="spacingAndGlyphs">ADW200</text>
  <text class="lbl" font-size="15.3" x="275.1" y="689.1" textLength="64" lengthAdjust="spacingAndGlyphs">AEW100</text>
  <text class="lbl" font-size="15.3" x="362.9" y="689.6" textLength="40.5" lengthAdjust="spacingAndGlyphs">ARTU</text>
  <text class="lbl" font-size="15.3" x="428.6" y="689.6" textLength="74.3" lengthAdjust="spacingAndGlyphs">ARCM300</text>
  <text class="lbl" font-size="17" font-weight="bold" y="608" x="527.9 532.0 536.2 541.5 545.7 549.8 554.0 558.1 562.2 567.6 571.8 575.9" transform="translate(-1.8 0)">............</text>
</g>
</svg>
</body>
</html>
